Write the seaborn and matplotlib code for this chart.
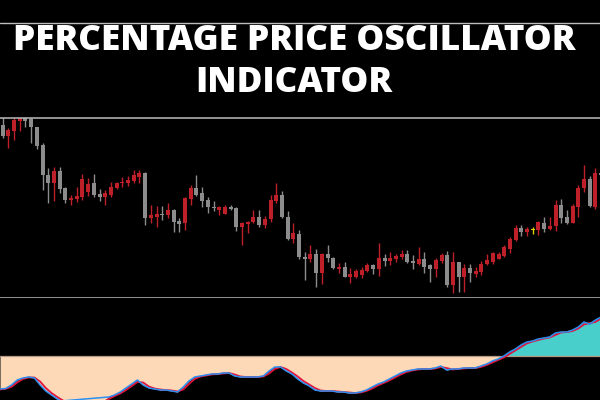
import numpy as np
import pandas as pd
import seaborn as sns
import matplotlib.pyplot as plt
from matplotlib.lines import Line2D

# SECTION 1: Data
opens = [175, 164, 169, 179, 184, 181, 173, 155, 125, 117,
         129, 112, 100, 101, 103, 108, 117, 106, 103, 105,
         112, 117, 117, 119, 123, 127, 82, 83, 86, 85,
         90, 79, 77, 101, 112, 107, 100, 93, 90, 86,
         93, 92, 73, 76, 78, 83, 75, 81, 99, 105,
         83, 61, 66, 43, 41, 46, 27, 46, 42, 31,
         33, 23, 23, 25, 29, 35, 31, 42, 39, 41,
         43, 46, 39, 36, 41, 35, 31, 39, 45, 15,
         38, 23, 32, 26, 28, 36, 38, 41, 44, 51,
         60, 72, 68, 70, 70, 77, 71, 74, 95, 83,
         77, 93, 112, 121, 93, 127]
closes = [164, 170, 180, 183, 179, 173, 154, 125, 117, 129,
          111, 100, 102, 104, 121, 116, 105, 103, 107, 113,
          117, 118, 120, 125, 127, 82, 85, 86, 85, 90,
          78, 76, 102, 112, 105, 99, 93, 92, 93, 93,
          91, 73, 77, 78, 83, 75, 81, 100, 105, 83,
          61, 67, 43, 41, 46, 27, 46, 42, 32, 33,
          23, 26, 29, 30, 35, 31, 42, 39, 42, 44,
          46, 38, 37, 41, 33, 31, 40, 45, 15, 38,
          23, 32, 27, 29, 36, 40, 47, 46, 53, 61,
          72, 68, 71, 70, 78, 71, 74, 95, 82, 77,
          94, 112, 121, 94, 127, 125]
highs = [183, 172, 183, 186, 186, 183, 173, 157, 132, 133,
         133, 113, 105, 113, 126, 122, 126, 111, 110, 118,
         118, 123, 124, 130, 130, 128, 95, 94, 94, 97,
         91, 82, 103, 115, 125, 113, 103, 99, 94, 95,
         95, 93, 78, 79, 90, 90, 84, 105, 117, 109,
         89, 77, 70, 48, 55, 51, 47, 55, 43, 37,
         38, 32, 31, 33, 37, 36, 57, 46, 48, 46,
         50, 50, 45, 53, 48, 36, 42, 47, 49, 48,
         38, 36, 36, 33, 39, 46, 48, 48, 55, 63,
         75, 75, 73, 73, 79, 83, 83, 100, 101, 90,
         96, 115, 135, 124, 132, 130]
lows = [162, 152, 160, 169, 173, 157, 151, 110, 97, 99,
        107, 97, 95, 98, 100, 104, 103, 99, 95, 103,
        111, 113, 114, 117, 117, 75, 77, 73, 80, 82,
        68, 68, 70, 95, 104, 93, 87, 89, 85, 86,
        90, 69, 55, 67, 77, 73, 72, 78, 97, 82,
        60, 57, 41, 20, 38, 13, 16, 38, 31, 27,
        23, 17, 22, 22, 28, 26, 24, 34, 35, 38,
        41, 37, 31, 35, 27, 18, 23, 37, 13, 7,
        8, 8, 18, 23, 25, 35, 36, 41, 43, 47,
        59, 64, 64, 66, 65, 68, 70, 69, 77, 76,
        77, 83, 108, 93, 91, 122]

# PPO main line and its signal line (percent)
ppo = [-0.33, -0.325, -0.29, -0.24, -0.22, -0.21, -0.22, -0.29, -0.35, -0.39,
       -0.43, -0.46, -0.48, -0.50, -0.51, -0.51, -0.50, -0.48, -0.45, -0.41,
       -0.39, -0.36, -0.32, -0.28, -0.24, -0.29, -0.32, -0.33, -0.34, -0.34,
       -0.35, -0.36, -0.31, -0.25, -0.21, -0.20, -0.19, -0.18, -0.18, -0.17,
       -0.17, -0.20, -0.21, -0.21, -0.21, -0.21, -0.20, -0.15, -0.11, -0.11,
       -0.15, -0.18, -0.23, -0.27, -0.30, -0.34, -0.35, -0.35, -0.35, -0.36,
       -0.36, -0.37, -0.37, -0.36, -0.34, -0.31, -0.28, -0.26, -0.23, -0.20,
       -0.17, -0.15, -0.14, -0.13, -0.13, -0.13, -0.12, -0.10, -0.14, -0.13,
       -0.13, -0.12, -0.12, -0.12, -0.10, -0.08, -0.05, -0.03, 0.00, 0.04,
       0.07, 0.11, 0.14, 0.15, 0.17, 0.18, 0.19, 0.23, 0.24, 0.24,
       0.26, 0.29, 0.34, 0.32, 0.36, 0.39]
signal = [-0.335, -0.328, -0.308, -0.265, -0.23, -0.215, -0.215, -0.255, -0.32, -0.37,
          -0.41, -0.445, -0.47, -0.49, -0.505, -0.51, -0.505, -0.49, -0.465, -0.43,
          -0.40, -0.375, -0.34, -0.30, -0.26, -0.265, -0.305, -0.325, -0.335, -0.34,
          -0.345, -0.355, -0.335, -0.28, -0.23, -0.205, -0.195, -0.185, -0.18, -0.175,
          -0.17, -0.185, -0.205, -0.21, -0.21, -0.21, -0.205, -0.175, -0.13, -0.11,
          -0.13, -0.165, -0.205, -0.25, -0.285, -0.32, -0.345, -0.35, -0.35, -0.355,
          -0.36, -0.365, -0.37, -0.365, -0.35, -0.325, -0.295, -0.27, -0.245, -0.215,
          -0.185, -0.16, -0.145, -0.135, -0.13, -0.13, -0.125, -0.11, -0.12, -0.135,
          -0.13, -0.125, -0.12, -0.12, -0.11, -0.09, -0.065, -0.04, -0.015, 0.02,
          0.055, 0.09, 0.125, 0.145, 0.16, 0.175, 0.185, 0.21, 0.235, 0.24,
          0.25, 0.275, 0.315, 0.33, 0.34, 0.375]

title_lines = ["PERCENTAGE PRICE OSCILLATOR", "INDICATOR"]

# SECTION 2: Style
sns.set_theme(style="dark", rc={
    "figure.facecolor": "black",
    "axes.facecolor": "black",
    "axes.grid": False,
})
plt.rcParams["font.family"] = ["Open Sans", "DejaVu Sans"]

bull_color = "#bd2029"
bear_color = "#8c8c8c"
doji_color = "#e0d000"
frame_color = "#bdbdbd"

df = pd.DataFrame({"open": opens, "high": highs, "low": lows, "close": closes})
df["bar"] = np.arange(len(df))
df["color"] = np.where(df["close"] > df["open"], bull_color,
                       np.where(df["close"] < df["open"], bear_color, doji_color))

osc = pd.DataFrame({"bar": np.arange(len(ppo)), "ppo": ppo, "signal": signal})

fig = plt.figure(figsize=(6, 4), dpi=100)

# SECTION 3: Candles
ax = fig.add_axes([0, 0.255, 1, 0.45])
ax.vlines(df["bar"], df["low"], df["high"], colors=df["color"], lw=1.0)
body_low = df[["open", "close"]].min(axis=1)
body_h = (df["close"] - df["open"]).abs().clip(lower=0.8)
ax.bar(df["bar"], body_h, bottom=body_low, width=0.7, color=df["color"], linewidth=0)
ax.set_xlim(-0.47, 104.8)
ax.set_ylim(2, 182)
ax.set_xticks([])
ax.set_yticks([])
for side in ["left", "right"]:
    ax.spines[side].set_visible(False)
for side in ["top", "bottom"]:
    ax.spines[side].set_visible(True)
    ax.spines[side].set_color(frame_color)
    ax.spines[side].set_linewidth(1.1)

# SECTION 4: Oscillator
ax2 = fig.add_axes([0, 0, 1, 0.255])
ax2.fill_between(osc["bar"], 0, osc["ppo"], where=osc["ppo"] <= 0,
                 interpolate=True, color="#fdd9b8", linewidth=0)
ax2.fill_between(osc["bar"], 0, osc["ppo"], where=osc["ppo"] >= 0,
                 interpolate=True, color="#48cfcb", linewidth=0)
ax2.axhline(0, color="#b49a84", lw=0.9, zorder=1)
sns.lineplot(data=osc, x="bar", y="signal", color="#e0143c", lw=1.3, ax=ax2)
sns.lineplot(data=osc, x="bar", y="ppo", color="#2a8ff0", lw=1.1, ax=ax2)
ax2.set_xlim(0, 104.8)
ax2.set_ylim(-0.44, 0.58)
ax2.set_xticks([])
ax2.set_yticks([])
ax2.set_xlabel("")
ax2.set_ylabel("")
for s in ax2.spines.values():
    s.set_visible(False)

# SECTION 5: Title and top rule
fig.add_artist(Line2D([0, 1], [0.9425, 0.9425], color=frame_color, lw=1.0))
fig.text(0.49, 1 - 41 / 400, title_lines[0], color="white", fontsize=25.3,
         fontweight="heavy", ha="center", va="center")
fig.text(0.49, 1 - 83 / 400, title_lines[1], color="white", fontsize=25.3,
         fontweight="heavy", ha="center", va="center")

fig.savefig("out.png", dpi=100, facecolor="black")
